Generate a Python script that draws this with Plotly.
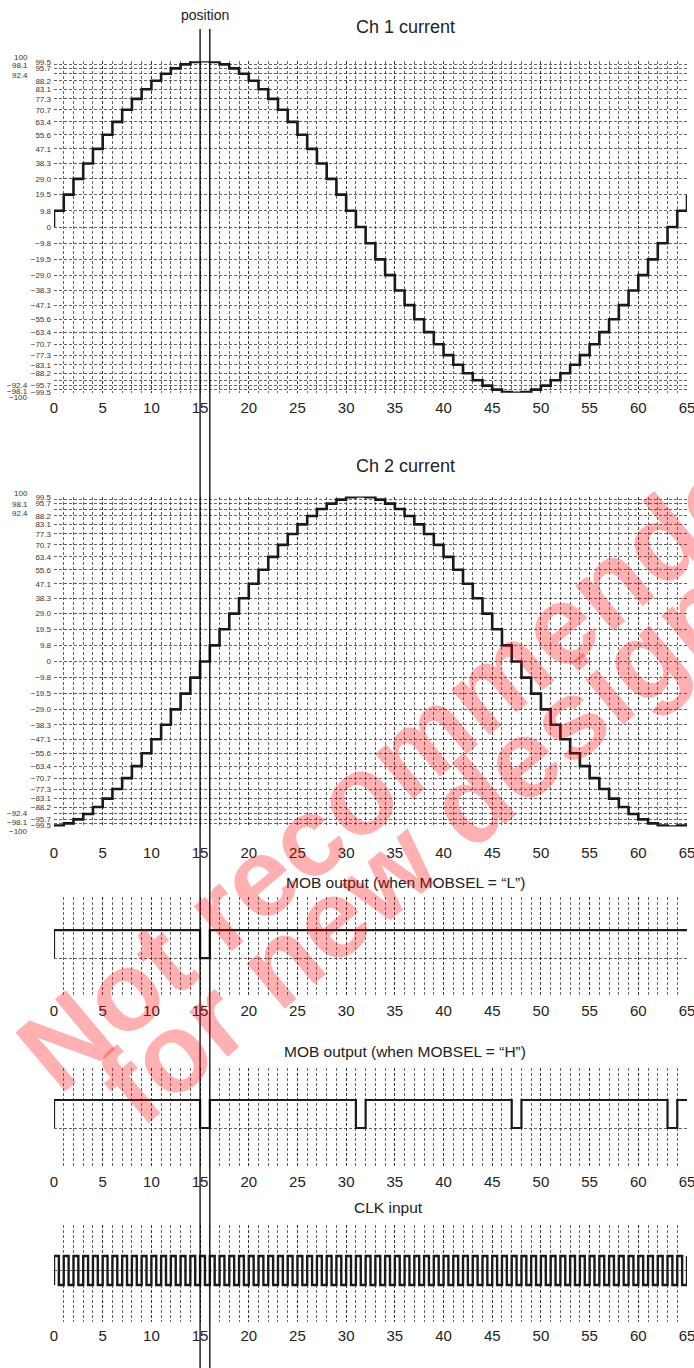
import plotly.graph_objects as go

W, H = 694, 1368

# ---------------- data ----------------
steps = list(range(66))  # microstep positions 0..65

# current value held on [k, k+1) for each step k (percent)
ch1_current = [9.8, 19.5, 29.0, 38.3, 47.1, 55.6, 63.4, 70.7, 77.3, 83.1, 88.2, 92.4, 95.7, 98.1, 99.5,
               100,
               99.5, 98.1, 95.7, 92.4, 88.2, 83.1, 77.3, 70.7, 63.4, 55.6, 47.1, 38.3, 29.0, 19.5, 9.8,
               0,
               -9.8, -19.5, -29.0, -38.3, -47.1, -55.6, -63.4, -70.7, -77.3, -83.1, -88.2, -92.4, -95.7, -98.1, -99.5,
               -100,
               -99.5, -98.1, -95.7, -92.4, -88.2, -83.1, -77.3, -70.7, -63.4, -55.6, -47.1, -38.3, -29.0, -19.5, -9.8,
               0, 9.8, 19.5]
ch1_start = 0

ch2_current = [-99.5, -98.1, -95.7, -92.4, -88.2, -83.1, -77.3, -70.7, -63.4, -55.6, -47.1, -38.3, -29.0, -19.5, -9.8,
               0,
               9.8, 19.5, 29.0, 38.3, 47.1, 55.6, 63.4, 70.7, 77.3, 83.1, 88.2, 92.4, 95.7, 98.1, 99.5,
               100,
               99.5, 98.1, 95.7, 92.4, 88.2, 83.1, 77.3, 70.7, 63.4, 55.6, 47.1, 38.3, 29.0, 19.5, 9.8,
               0,
               -9.8, -19.5, -29.0, -38.3, -47.1, -55.6, -63.4, -70.7, -77.3, -83.1, -88.2, -92.4, -95.7, -98.1, -99.5,
               -100,
               -99.5, -98.1]
ch2_start = -100

current_ticks = [100, 99.5, 98.1, 95.7, 92.4, 88.2, 83.1, 77.3, 70.7, 63.4, 55.6, 47.1, 38.3, 29.0, 19.5, 9.8, 0,
                 -9.8, -19.5, -29.0, -38.3, -47.1, -55.6, -63.4, -70.7, -77.3, -83.1, -88.2, -92.4, -95.7, -98.1,
                 -99.5, -100]
current_tick_text = ["100", "99.5", "98.1", "95.7", "92.4", "88.2", "83.1", "77.3", "70.7", "63.4", "55.6",
                     "47.1", "38.3", "29.0", "19.5", "9.8", "0", "\u22129.8", "\u221219.5", "\u221229.0",
                     "\u221238.3", "\u221247.1", "\u221255.6", "\u221263.4", "\u221270.7", "\u221277.3",
                     "\u221283.1", "\u221288.2", "\u221292.4", "\u221295.7", "\u221298.1", "\u221299.5", "\u2212100"]
# values whose labels sit in the outer (left) column
outer_ticks = [100, 98.1, 92.4, -92.4, -98.1, -100]

x_ticks = [0, 5, 10, 15, 20, 25, 30, 35, 40, 45, 50, 55, 60, 65]

mobl_x = [0, 0, 15, 16, 66]
mobl_level = [0, 1, 0, 1, 1]

mobh_x = [0, 0, 15, 16, 31, 32, 47, 48, 63, 64, 65]
mobh_level = [0, 1, 0, 1, 0, 1, 0, 1, 0, 1, 1]

clk_rise = steps[:65]      # CLK rises at each step
clk_high_time = 0.5        # high for half a step

position_marks = [15, 16]

titles = ["Ch 1 current", "Ch 2 current", "MOB output (when MOBSEL = \u201cL\u201d)",
          "MOB output (when MOBSEL = \u201cH\u201d)", "CLK input"]
watermark = ["Not recommended", "for new design"]

# ---------------- layout helpers ----------------
FONT = "Liberation Sans, Arial, Helvetica, sans-serif"
GRID = dict(showgrid=True, gridcolor="#222", gridwidth=0.7, griddash="3px,2px")


def px(sx):  # window x pixel -> paper x
    return sx / W


def py(sy):  # window y pixel -> paper y
    return 1 - sy / H


X0, X1 = 54, 687

panels = [
    # top px, bottom px (window), y range, tick label standoff
    dict(top=61.2, bottom=392.8, yr=[-100, 100], standoff=4),
    dict(top=496.5, bottom=826.5, yr=[-100, 100], standoff=15),
    dict(top=897, bottom=995, yr=[-1.32, 2.18], standoff=5),
    dict(top=1068, bottom=1166, yr=[-1.357, 2.143], standoff=5),
    dict(top=1225, bottom=1322, yr=[-1.276, 2.069], standoff=3),
]

fig = go.Figure()

LINE = "#1a1a1a"
fig.add_trace(go.Scatter(x=[0] + steps, y=[ch1_start] + ch1_current, mode="lines",
                         line=dict(shape="hv", color=LINE, width=2.6), xaxis="x", yaxis="y",
                         hoverinfo="skip"))
fig.add_trace(go.Scatter(x=[0] + steps, y=[ch2_start] + ch2_current, mode="lines",
                         line=dict(shape="hv", color=LINE, width=2.6), xaxis="x2", yaxis="y2",
                         hoverinfo="skip"))
fig.add_trace(go.Scatter(x=mobl_x, y=mobl_level, mode="lines", cliponaxis=False,
                         line=dict(shape="hv", color=LINE, width=2.2), xaxis="x3", yaxis="y3",
                         hoverinfo="skip"))
fig.add_trace(go.Scatter(x=mobh_x, y=mobh_level, mode="lines",
                         line=dict(shape="hv", color=LINE, width=2.2), xaxis="x4", yaxis="y4",
                         hoverinfo="skip"))
clk_x, clk_y = [0], [0]
for k in clk_rise:
    clk_x += [k, k + clk_high_time]
    clk_y += [1, 0]
clk_x.append(65)
clk_y.append(1)
fig.add_trace(go.Scatter(x=clk_x, y=clk_y, mode="lines",
                         line=dict(shape="hv", color=LINE, width=2.4), xaxis="x5", yaxis="y5",
                         hoverinfo="skip"))

layout = dict(template="none", width=W, height=H, margin=dict(l=0, r=0, t=0, b=0, pad=0),
              paper_bgcolor="white", plot_bgcolor="rgba(0,0,0,0)", showlegend=False,
              hovermode=False, dragmode=False,
              font=dict(family=FONT, color="#222"))

for i, p in enumerate(panels):
    n = "" if i == 0 else str(i + 1)
    xa = dict(domain=[px(X0), px(X1)], range=[0, 65], anchor="y" + n, tickmode="array",
              tickvals=x_ticks, ticktext=[str(v) for v in x_ticks], ticks="", zeroline=False,
              showline=False, automargin=False, ticklabeloverflow="allow", fixedrange=True,
              tickfont=dict(size=15, family=FONT, color="#222"),
              ticklabelstandoff=p["standoff"],
              minor=dict(tick0=0, dtick=1, ticks="", **GRID), **GRID)
    dom = [py(p["bottom"]), py(p["top"])]
    if i < 2:
        ya = dict(domain=dom, range=p["yr"], anchor="x" + n, tickmode="array",
                  tickvals=current_ticks,
                  ticktext=["" if v in outer_ticks else t for v, t in zip(current_ticks, current_tick_text)],
                  ticks="", zeroline=False, showline=False, ticklabelstandoff=2, automargin=False,
                  ticklabeloverflow="allow", fixedrange=True,
                  tickfont=dict(size=8, family=FONT, color="#333"), **GRID)
    else:
        grid_level = 0.5 if i == 4 else 0
        ya = dict(domain=dom, range=p["yr"], anchor="x" + n, tickmode="array",
                  tickvals=[grid_level], showticklabels=False, ticks="", zeroline=False, showline=False,
                  automargin=False, fixedrange=True, **GRID)
    layout["xaxis" + n] = xa
    layout["yaxis" + n] = ya

annotations = []
# outer-column current labels (pixel offsets from their true value)
outer_shift = [
    {100: 4, 98.1: -1.6, 92.4: -2, -92.4: -5, -98.1: -2, -100: -5},
    {100: 3.2, 98.1: -4.4, 92.4: -4.3, -92.4: 0.5, -98.1: 0.7, -100: -5.2},
]
for i in range(2):
    n = "" if i == 0 else str(i + 1)
    for v, t in zip(current_ticks, current_tick_text):
        if v in outer_ticks:
            annotations.append(dict(x=px(30), xref="paper", y=v, yref="y" + n, text=t, showarrow=False,
                                    xanchor="right", yanchor="middle", yshift=outer_shift[i][v],
                                    font=dict(size=8, family=FONT, color="#333")))

title_pos = [(405, 27, 18), (405, 466, 18), (405, 882, 15.5), (405, 1051, 15.5), (389, 1207, 15.5)]
for t, (sx, sy, fs) in zip(titles, title_pos):
    annotations.append(dict(x=px(sx), y=py(sy), xref="paper", yref="paper", text=t, showarrow=False,
                            xanchor="center", yanchor="middle", font=dict(size=fs, family=FONT, color="#222")))
annotations.append(dict(x=px(205), y=py(15), xref="paper", yref="paper", text="position",
                        showarrow=False, xanchor="center", yanchor="middle",
                        font=dict(size=14, family=FONT, color="#222")))

# watermark (window pixel centres)
for txt, (cx, cy) in zip(watermark, [(411, 750), (418, 846)]):
    annotations.append(dict(x=px(cx), y=py(cy), xref="paper", yref="paper", text="<b>" + txt + "</b>",
                            showarrow=False, textangle=-40, xanchor="center", yanchor="middle",
                            font=dict(size=112, family=FONT, color="rgba(255,0,0,0.31)")))
layout["annotations"] = annotations

shapes = []
for m in position_marks:
    shapes.append(dict(type="line", xref="x", yref="paper", x0=m, x1=m, y0=0, y1=py(29),
                       line=dict(color="black", width=1.3)))
layout["shapes"] = shapes

fig.update_layout(**layout)
fig.write_html("out.html", config={"displayModeBar": False, "staticPlot": True},
               post_script="document.body.style.margin='0';document.body.style.overflow='hidden';")
